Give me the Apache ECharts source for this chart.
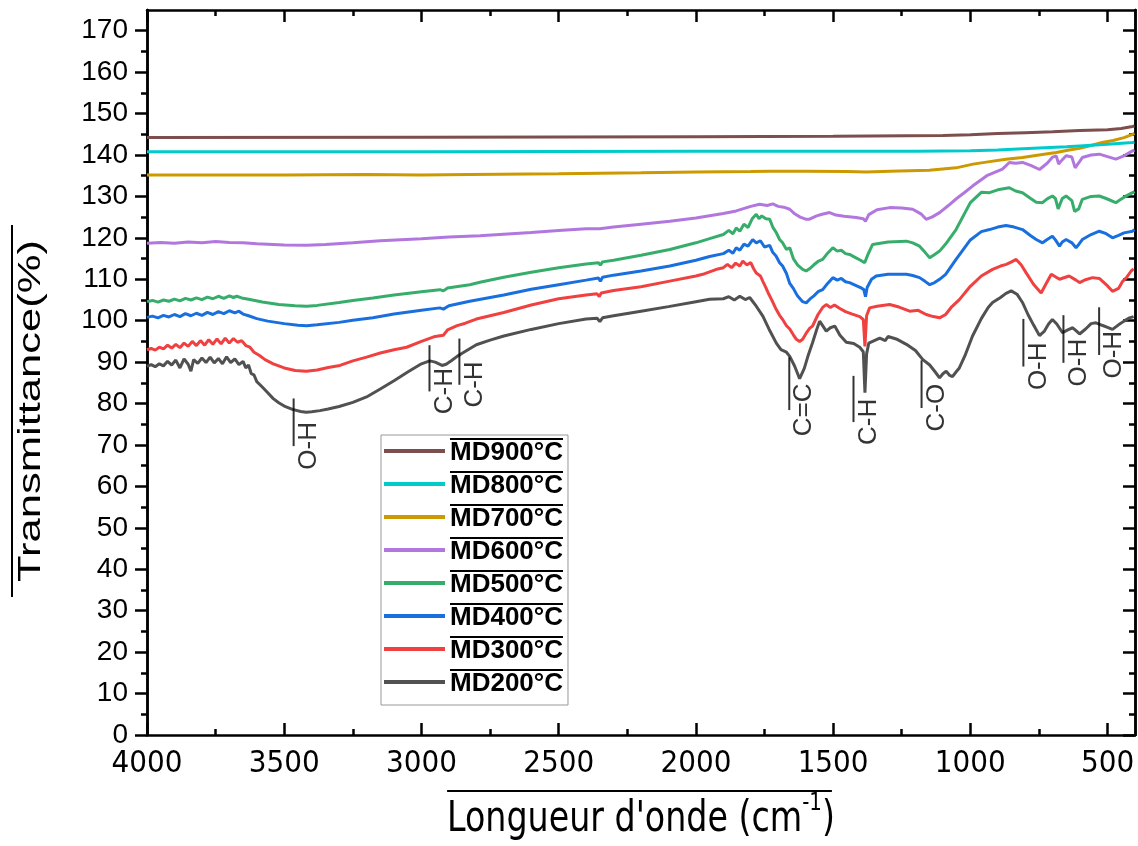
<!DOCTYPE html>
<html><head><meta charset="utf-8">
<script src="https://cdn.jsdelivr.net/npm/echarts@6/dist/echarts.min.js"></script>
<style>html,body{margin:0;padding:0;background:#fff}#c{width:1138px;height:846px}</style>
</head><body><div id="c"></div>
<script>
// ---------- DATA ----------
const seriesNames = ['MD200°C','MD300°C','MD400°C','MD500°C','MD600°C','MD700°C','MD800°C','MD900°C'];
const seriesColors = ['#515151','#F14040','#1A6FDF','#37AD6B','#B177DE','#CC9900','#00CBCC','#7D4E4E'];

const md200 = [[4000,89.0],[3985,89.4],[3970,88.9],[3955,89.6],[3940,89.1],[3925,90.2],[3910,89.3],[3895,90.5],[3880,88.6],[3865,90.8],[3850,89.5],[3840,87.8],[3830,90.6],[3815,89.7],[3800,91.0],[3785,89.9],[3770,91.2],[3755,89.8],[3740,90.9],[3725,89.6],[3710,91.3],[3695,89.9],[3680,90.8],[3665,89.4],[3650,90.2],[3640,88.6],[3630,89.3],[3620,87.2],[3610,86.9],[3600,85.3],[3580,84.0],[3560,82.6],[3540,81.2],[3520,80.2],[3500,79.4],[3470,78.6],[3440,78.1],[3420,77.9],[3400,78.0],[3370,78.3],[3340,78.7],[3300,79.3],[3250,80.3],[3200,81.6],[3150,83.5],[3100,85.5],[3050,87.6],[3000,89.6],[2970,90.3],[2950,90.0],[2925,89.2],[2910,89.5],[2890,90.4],[2870,91.4],[2850,92.2],[2800,94.2],[2750,95.3],[2700,96.3],[2600,97.9],[2500,99.3],[2400,100.4],[2360,100.6],[2350,99.8],[2340,100.7],[2300,101.2],[2200,102.3],[2100,103.4],[2000,104.6],[1950,105.2],[1900,105.3],[1880,105.8],[1860,105.0],[1840,105.9],[1820,105.1],[1804,105.6],[1780,103.5],[1756,101.1],[1730,97.5],[1707,94.6],[1690,93.0],[1670,92.4],[1658,91.4],[1640,89.0],[1622,86.0],[1605,88.5],[1590,91.8],[1575,94.7],[1560,97.8],[1549,99.9],[1540,99.0],[1525,97.5],[1510,98.3],[1494,98.7],[1475,96.5],[1452,94.8],[1425,94.5],[1403,93.6],[1390,92.5],[1384,82.6],[1378,92.0],[1370,94.6],[1350,95.2],[1330,95.8],[1310,95.2],[1300,96.2],[1270,95.6],[1233,94.3],[1200,92.8],[1173,90.6],[1148,89.3],[1130,87.8],[1112,86.2],[1100,87.2],[1088,87.8],[1075,86.8],[1065,86.5],[1050,87.8],[1040,88.6],[1020,91.5],[992,96.3],[960,100.5],[935,103.2],[919,104.4],[890,105.6],[870,106.6],[851,107.2],[830,106.4],[810,104.4],[790,101.5],[770,99.0],[748,96.4],[730,97.5],[715,99.2],[701,100.3],[685,99.2],[664,97.1],[645,97.8],[627,98.3],[615,97.6],[602,96.8],[580,98.0],[560,99.3],[542,99.5],[520,98.9],[500,98.4],[482,97.9],[460,99.0],[440,99.9],[420,100.7],[405,101.0]];

const md300 = [[4000,93.0],[3985,93.3],[3970,92.9],[3955,93.6],[3940,93.2],[3925,94.1],[3910,93.4],[3895,94.3],[3880,93.5],[3865,94.6],[3850,93.8],[3835,95.0],[3820,94.0],[3805,95.2],[3790,94.1],[3775,95.4],[3760,94.3],[3745,95.6],[3730,94.4],[3715,95.8],[3700,94.6],[3685,95.7],[3670,94.8],[3655,95.2],[3640,94.0],[3625,93.6],[3610,92.4],[3590,91.6],[3570,90.6],[3540,89.6],[3500,88.6],[3460,88.0],[3420,87.8],[3380,88.1],[3340,88.7],[3297,89.2],[3250,90.3],[3200,91.2],[3150,92.2],[3100,93.0],[3054,93.6],[3000,95.0],[2950,96.2],[2920,96.5],[2905,97.8],[2870,98.8],[2840,99.4],[2800,100.4],[2700,102.0],[2600,103.8],[2500,105.3],[2400,106.2],[2360,106.5],[2352,105.8],[2345,106.7],[2300,107.3],[2200,108.2],[2100,109.5],[2000,110.8],[1975,111.2],[1920,112.5],[1900,112.8],[1885,113.6],[1870,112.8],[1855,113.9],[1840,113.2],[1829,114.4],[1815,113.5],[1800,114.0],[1790,112.6],[1780,111.5],[1765,110.8],[1756,109.5],[1745,108.0],[1735,106.5],[1722,104.8],[1707,102.7],[1695,101.3],[1685,100.4],[1670,98.8],[1658,98.0],[1645,96.6],[1635,95.6],[1622,95.0],[1611,95.5],[1598,97.0],[1585,98.2],[1575,98.7],[1555,101.5],[1538,103.2],[1525,103.9],[1510,103.2],[1495,103.8],[1477,103.0],[1455,102.2],[1430,101.6],[1403,101.0],[1390,100.3],[1384,93.8],[1378,101.2],[1367,103.1],[1340,103.5],[1294,103.9],[1260,103.3],[1221,102.3],[1190,102.5],[1161,101.5],[1135,101.0],[1112,100.7],[1090,101.5],[1070,103.2],[1040,105.1],[1000,108.3],[960,110.8],[919,112.4],[890,113.2],[869,113.6],[850,114.2],[833,114.8],[815,113.5],[797,111.6],[770,108.8],[742,106.7],[725,108.8],[705,111.2],[690,110.6],[675,110.0],[669,110.4],[640,110.8],[615,109.8],[602,109.2],[580,109.9],[555,110.4],[530,110.2],[500,108.4],[482,107.1],[460,107.8],[445,109.5],[430,110.5],[414,112.0],[405,112.5]];

const md400 = [[4000,100.8],[3980,101.1],[3960,100.7],[3940,101.3],[3920,100.9],[3900,101.5],[3880,101.0],[3860,101.7],[3840,101.2],[3820,101.8],[3800,101.3],[3780,102.0],[3760,101.5],[3740,102.2],[3720,101.7],[3700,102.4],[3680,101.9],[3665,102.3],[3650,101.6],[3630,101.2],[3600,100.5],[3560,99.9],[3500,99.3],[3450,98.9],[3418,98.8],[3380,99.0],[3300,99.6],[3250,100.1],[3177,100.7],[3100,101.6],[3000,102.5],[2933,103.1],[2920,102.8],[2900,103.6],[2824,104.7],[2700,106.2],[2600,107.6],[2500,108.7],[2400,109.8],[2355,110.3],[2348,109.5],[2340,110.5],[2300,111.0],[2200,112.0],[2095,113.2],[2000,114.6],[1950,115.5],[1900,116.2],[1880,117.0],[1865,116.3],[1853,117.6],[1840,117.0],[1825,118.5],[1810,118.0],[1793,119.6],[1780,118.8],[1765,119.3],[1750,117.8],[1731,118.2],[1720,116.5],[1708,115.6],[1695,114.0],[1684,113.2],[1670,111.4],[1658,109.0],[1645,107.8],[1630,106.0],[1611,104.6],[1598,104.3],[1585,105.2],[1570,106.0],[1555,107.0],[1538,107.5],[1520,109.0],[1501,110.4],[1485,109.8],[1470,110.2],[1455,109.4],[1440,109.2],[1420,108.6],[1400,108.0],[1388,107.5],[1382,105.8],[1376,108.0],[1360,110.0],[1343,110.8],[1300,111.2],[1233,111.2],[1210,110.9],[1185,110.4],[1165,109.5],[1148,108.7],[1130,109.2],[1112,110.0],[1090,111.2],[1052,114.8],[1000,119.5],[960,121.5],[930,122.0],[900,122.6],[870,123.0],[840,122.6],[810,122.0],[780,120.5],[760,119.6],[737,118.8],[720,119.6],[701,120.4],[690,119.5],[675,118.0],[665,119.0],[651,119.6],[630,118.8],[615,117.6],[605,118.4],[592,119.6],[560,120.8],[530,121.6],[505,121.0],[482,120.0],[460,120.6],[440,121.2],[409,121.6],[402,122.0]];

const md500 = [[4000,104.6],[3980,104.9],[3960,104.5],[3940,105.0],[3920,104.7],[3900,105.2],[3880,104.8],[3860,105.4],[3840,105.0],[3820,105.5],[3800,105.1],[3780,105.7],[3760,105.3],[3740,105.9],[3720,105.4],[3700,106.0],[3685,105.6],[3673,105.9],[3655,105.5],[3625,105.1],[3580,104.5],[3520,103.9],[3460,103.6],[3418,103.5],[3380,103.7],[3300,104.4],[3250,104.9],[3177,105.5],[3100,106.2],[3000,107.0],[2933,107.5],[2920,107.2],[2905,107.9],[2824,108.7],[2787,109.3],[2700,110.5],[2600,111.7],[2500,112.8],[2400,113.7],[2355,114.0],[2348,113.4],[2340,114.2],[2300,114.6],[2200,115.8],[2095,117.2],[2000,118.8],[1950,119.8],[1900,120.8],[1880,121.8],[1865,121.0],[1853,122.4],[1840,121.6],[1825,123.3],[1810,122.5],[1795,124.6],[1780,125.7],[1770,124.6],[1760,125.3],[1745,124.6],[1731,124.5],[1720,122.6],[1708,121.4],[1695,119.6],[1684,118.8],[1670,117.2],[1658,117.6],[1645,115.0],[1630,113.5],[1611,112.4],[1598,112.0],[1585,112.6],[1570,113.5],[1555,114.3],[1538,114.8],[1520,116.3],[1501,117.6],[1485,116.8],[1470,117.0],[1455,116.2],[1440,116.0],[1420,115.3],[1400,114.6],[1385,114.0],[1379,113.8],[1373,116.0],[1356,118.4],[1300,119.0],[1233,119.2],[1210,118.8],[1185,118.0],[1165,116.5],[1148,115.2],[1130,116.0],[1112,116.8],[1090,118.5],[1052,122.0],[1000,128.5],[960,131.0],[930,130.9],[900,131.6],[858,132.1],[835,131.3],[810,130.9],[780,129.5],[760,128.6],[737,128.5],[720,129.4],[701,130.1],[690,129.5],[680,127.0],[675,126.9],[665,129.5],[651,130.1],[630,129.0],[620,126.4],[615,126.5],[605,127.0],[592,129.3],[560,130.0],[530,130.1],[505,129.5],[470,128.5],[450,129.4],[430,130.2],[409,130.9],[402,131.2]];

const md600 = [[4000,118.7],[3950,118.9],[3900,118.7],[3850,119.0],[3800,118.8],[3750,119.1],[3700,118.9],[3650,118.8],[3600,118.6],[3500,118.3],[3418,118.2],[3350,118.4],[3250,118.8],[3150,119.3],[3000,119.8],[2900,120.2],[2787,120.5],[2600,121.3],[2500,121.8],[2400,122.2],[2350,122.2],[2300,122.6],[2200,123.3],[2095,124.0],[2000,124.8],[1900,125.9],[1853,126.5],[1800,127.6],[1768,128.1],[1740,127.8],[1720,128.2],[1700,127.6],[1680,127.4],[1658,126.9],[1640,125.8],[1620,125.0],[1600,124.5],[1586,124.5],[1560,125.3],[1540,125.7],[1513,126.1],[1490,125.5],[1460,125.2],[1416,124.9],[1390,124.6],[1382,124.0],[1370,125.6],[1340,126.8],[1294,127.3],[1250,127.2],[1210,126.9],[1180,125.8],[1161,124.5],[1140,125.0],[1112,126.1],[1080,127.8],[1050,129.5],[1020,131.0],[992,132.5],[940,135.0],[883,136.6],[858,138.2],[835,138.0],[810,138.2],[780,137.5],[748,136.5],[720,138.0],[700,139.5],[687,139.8],[678,137.8],[670,138.5],[651,139.8],[630,139.5],[618,136.9],[612,137.5],[600,138.6],[592,139.4],[560,140.0],[530,140.2],[500,139.6],[470,139.0],[440,139.8],[409,141.0],[402,141.2]];

const md700 = [[4000,135.2],[3500,135.2],[3200,135.3],[3000,135.2],[2824,135.3],[2500,135.5],[2200,135.7],[2000,135.9],[1800,136.0],[1731,136.1],[1600,136.1],[1450,136.0],[1380,135.9],[1294,136.1],[1150,136.3],[1052,136.9],[990,137.8],[930,138.4],[870,139.0],[810,139.4],[750,140.0],[687,140.6],[640,141.2],[602,141.6],[560,142.3],[520,143.0],[480,143.5],[440,144.2],[409,145.0],[402,145.2]];

const md800 = [[4000,140.8],[3000,140.8],[2000,140.9],[1200,140.9],[1000,141.0],[900,141.2],[846,141.4],[750,141.7],[650,142.0],[602,142.2],[500,142.6],[409,143.0],[402,143.1]];

const md900 = [[4000,144.2],[3000,144.3],[2000,144.4],[1500,144.5],[1100,144.7],[1000,144.9],[900,145.2],[800,145.4],[700,145.6],[602,145.9],[500,146.1],[450,146.4],[409,146.9],[402,147.0]];

const xMajorTicks = [500,1000,1500,2000,2500,3000,3500,4000];
const xMinorTicks = [750,1250,1750,2250,2750,3250,3750];
const yMajorTicks = [0,10,20,30,40,50,60,70,80,90,100,110,120,130,140,150,160,170];
const yMinorTicks = [5,15,25,35,45,55,65,75,85,95,105,115,125,135,145,155,165];

const annoLabels = ['O-H','C-H','C-H','C=C','C-H','C-O','O-H','O-H','O-H'];
const annoX = [3422,2927,2818,1616,1382,1134,763,617,487];
const annoY = [69.8,83.0,84.6,78.5,75.6,79.0,89.0,89.9,91.8];

const yTitle = 'Transmittance(%)';
const xTitleMain = "Longueur d'onde (cm";
const xTitleSup = '-1';
const xTitleEnd = ')';

// ---------- CHART ----------
const FONT = "'Liberation Sans', Arial, sans-serif";
const NARROW = "'Liberation Sans Narrow', 'DejaVu Sans Condensed', 'Liberation Sans', Arial, sans-serif";
const allData = [md200, md300, md400, md500, md600, md700, md800, md900];
const AX = '#000';
const LW = 2.5;

const chart = echarts.init(document.getElementById('c'), null, {renderer: 'canvas'});

function xAx(pos, ticks, len, showLine, showLabel) {
  return {
    type: 'value', position: pos, inverse: true, min: 400, max: 4000,
    axisLine: {show: showLine, onZero: false, lineStyle: {color: AX, width: LW}},
    axisTick: {show: true, inside: true, length: len, customValues: ticks, lineStyle: {color: AX, width: LW}},
    axisLabel: {show: showLabel, customValues: ticks, formatter: v => String(v), color: '#000', fontFamily: NARROW, fontSize: 31, margin: 13},
    splitLine: {show: false}
  };
}
function yAx(pos, ticks, len, inside, showLabel) {
  return {
    type: 'value', position: pos, min: 0, max: 175,
    axisLine: {show: true, onZero: false, lineStyle: {color: AX, width: LW}},
    axisTick: {show: true, inside: inside, length: len, customValues: ticks, lineStyle: {color: AX, width: LW}},
    axisLabel: {show: showLabel, customValues: ticks, formatter: v => String(v), color: '#000', fontFamily: FONT, fontSize: 28, margin: 19},
    splitLine: {show: false}
  };
}

const series = allData.map((d, i) => ({
  name: seriesNames[i], type: 'line', data: d, showSymbol: false, symbol: 'none',
  lineStyle: {color: seriesColors[i], width: 3}, itemStyle: {color: seriesColors[i]},
  xAxisIndex: 0, yAxisIndex: 0, z: 2 + i, animation: false
}));

series.push({
  type: 'scatter', name: 'annotations', xAxisIndex: 0, yAxisIndex: 0,
  data: annoX.map((x, i) => [x, annoY[i], annoLabels[i]]),
  symbolSize: 1, itemStyle: {color: 'rgba(0,0,0,0)'}, silent: true, z: 20, animation: false,
  label: {
    show: true, position: 'inside', rotate: 90, align: 'center', verticalAlign: 'middle',
    formatter: p => '{ol| }\n{t|' + p.value[2] + '}',
    rich: {
      ol: {width: '100%', height: 2, lineHeight: 6, fontSize: 2, backgroundColor: '#000'},
      t: {fontSize: 26, lineHeight: 24, fontFamily: FONT, color: '#000'}
    }
  }
});

// measure x-title pieces for the superscript placement
const mctx = document.createElement('canvas').getContext('2d');
const XT_FS = 37, XT_SUP = 22;
mctx.font = XT_FS + 'px ' + NARROW;
const wMain = mctx.measureText(xTitleMain).width;
const wEnd = mctx.measureText(xTitleEnd).width;
mctx.font = XT_SUP + 'px ' + NARROW;
const wSup = mctx.measureText(xTitleSup).width;
const wTot = wMain + wSup + wEnd;
const x0 = -wTot / 2;

const option = {
  backgroundColor: '#fff',
  animation: false,
  grid: {left: 147, right: 3, top: 10, bottom: 111, containLabel: false},
  xAxis: [
    xAx('bottom', xMajorTicks, 12, true, true),
    xAx('bottom', xMinorTicks, 6, false, false),
    xAx('top', xMajorTicks, 12, true, false),
    xAx('top', xMinorTicks, 6, false, false)
  ],
  yAxis: [
    yAx('left', yMajorTicks, 12, false, true),
    yAx('left', yMinorTicks, 6, false, false),
    yAx('right', yMajorTicks, 12, true, false),
    yAx('right', yMinorTicks, 6, true, false)
  ],
  legend: {
    data: seriesNames.slice().reverse(),
    orient: 'vertical', left: 381, top: 435,
    backgroundColor: '#fff', borderColor: '#999', borderWidth: 1,
    padding: [3, 5, 8, 3], itemGap: 5, itemWidth: 61, itemHeight: 4, icon: 'rect',
    selectedMode: false, z: 30,
    formatter: n => '{ol| }\n{t|' + n + '}',
    textStyle: {
      rich: {
        ol: {width: '100%', height: 2, lineHeight: 4, fontSize: 2, backgroundColor: '#000'},
        t: {fontSize: 26, lineHeight: 24, fontWeight: 'bold', fontFamily: FONT, color: '#000'}
      }
    }
  },
  graphic: [
    {
      type: 'group', x: 31, y: 411, rotation: Math.PI / 2, silent: true,
      children: [
        {type: 'text', x: 0, y: 0, scaleX: 1.36,
         style: {text: yTitle, font: '32px ' + FONT, fill: '#000', align: 'center', verticalAlign: 'middle', textAlign: 'center', textVerticalAlign: 'middle'}},
        {type: 'rect', shape: {x: -186, y: -20, width: 372, height: 2}, style: {fill: '#000'}}
      ]
    },
    {
      type: 'group', x: 641, y: 820, silent: true,
      children: [
        {type: 'text', x: x0, y: 0, scaleY: 1.15,
         style: {text: xTitleMain, font: XT_FS + 'px ' + NARROW, fill: '#000', align: 'left', verticalAlign: 'middle', textAlign: 'left', textVerticalAlign: 'middle'}},
        {type: 'text', x: x0 + wMain, y: -17, scaleY: 1.15,
         style: {text: xTitleSup, font: XT_SUP + 'px ' + NARROW, fill: '#000', align: 'left', verticalAlign: 'middle', textAlign: 'left', textVerticalAlign: 'middle'}},
        {type: 'text', x: x0 + wMain + wSup, y: 0, scaleY: 1.15,
         style: {text: xTitleEnd, font: XT_FS + 'px ' + NARROW, fill: '#000', align: 'left', verticalAlign: 'middle', textAlign: 'left', textVerticalAlign: 'middle'}},
        {type: 'rect', shape: {x: x0, y: -30, width: wTot - 3, height: 2}, style: {fill: '#000'}}
      ]
    }
  ],
  series: series
};
chart.setOption(option);
</script>
</body></html>
